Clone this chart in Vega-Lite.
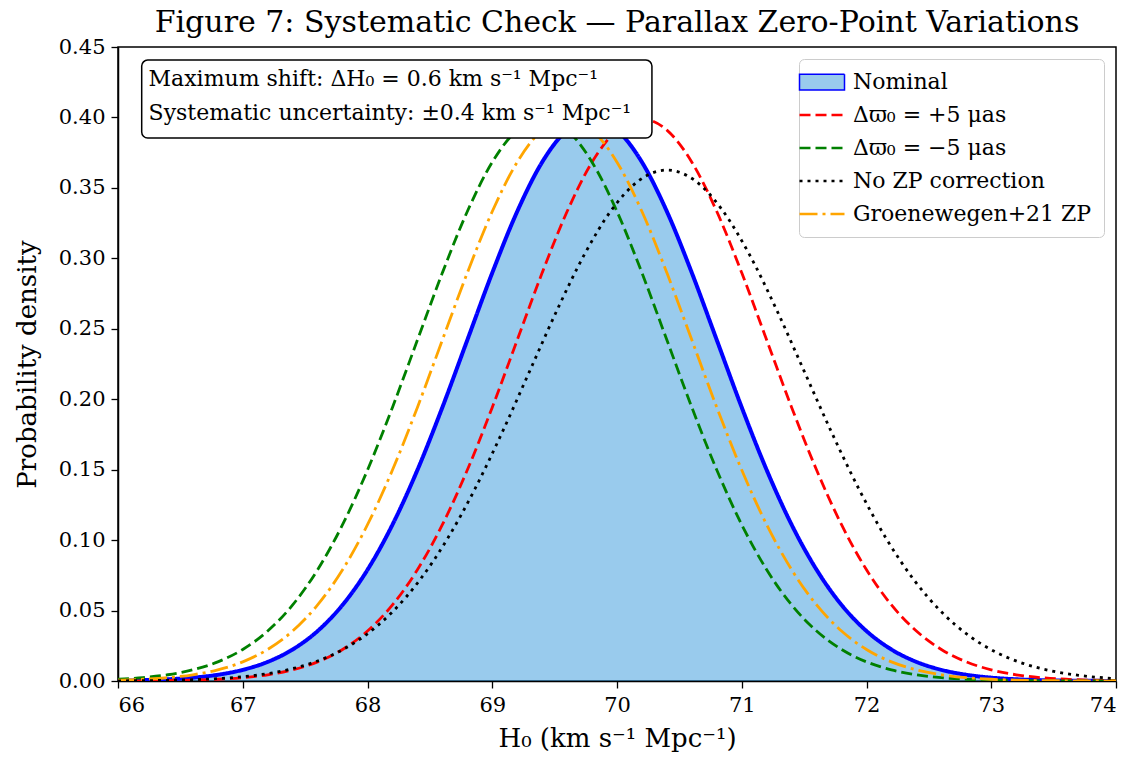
{
  "$schema": "https://vega.github.io/schema/vega-lite/v6.json",
  "width": 998,
  "height": 634,
  "autosize": {"type": "none"},
  "padding": {"left": 118, "top": 47, "right": 15, "bottom": 81},
  "background": "white",
  "title": {
    "text": "Figure 7: Systematic Check — Parallax Zero-Point Variations",
    "fontSize": 30,
    "fontWeight": "normal",
    "font": "DejaVu Serif",
    "color": "black",
    "anchor": "middle",
    "offset": -2
  },
  "config": {
    "font": "DejaVu Serif",
    "view": {"stroke": "black", "strokeWidth": 1.5},
    "axis": {
      "grid": false,
      "domainColor": "black",
      "domainWidth": 1.5,
      "tickColor": "black",
      "tickWidth": 1.3,
      "tickSize": 7,
      "labelColor": "black",
      "labelFontSize": 21,
      "labelFont": "DejaVu Serif",
      "titleColor": "black",
      "titleFontSize": 26,
      "titleFont": "DejaVu Serif",
      "titleFontWeight": "normal"
    }
  },
  "datasets": {
    "wide": [
      {"x": 66.0, "nom": 0.00029, "plus": 0.00006, "minus": 0.00123, "gr": 0.00061},
      {"x": 66.2, "nom": 0.00061, "plus": 0.00013, "minus": 0.00238, "gr": 0.00123},
      {"x": 66.4, "nom": 0.00123, "plus": 0.00029, "minus": 0.00443, "gr": 0.00238},
      {"x": 66.6, "nom": 0.00238, "plus": 0.00061, "minus": 0.00792, "gr": 0.00443},
      {"x": 66.8, "nom": 0.00443, "plus": 0.00123, "minus": 0.01358, "gr": 0.00792},
      {"x": 67.0, "nom": 0.00792, "plus": 0.00238, "minus": 0.02239, "gr": 0.01358},
      {"x": 67.2, "nom": 0.01358, "plus": 0.00443, "minus": 0.03547, "gr": 0.02239},
      {"x": 67.4, "nom": 0.02239, "plus": 0.00792, "minus": 0.05399, "gr": 0.03547},
      {"x": 67.6, "nom": 0.03547, "plus": 0.01358, "minus": 0.07895, "gr": 0.05399},
      {"x": 67.8, "nom": 0.05399, "plus": 0.02239, "minus": 0.11092, "gr": 0.07895},
      {"x": 68.0, "nom": 0.07895, "plus": 0.03547, "minus": 0.14973, "gr": 0.11092},
      {"x": 68.2, "nom": 0.11092, "plus": 0.05399, "minus": 0.19419, "gr": 0.14973},
      {"x": 68.4, "nom": 0.14973, "plus": 0.07895, "minus": 0.24197, "gr": 0.19419},
      {"x": 68.6, "nom": 0.19419, "plus": 0.11092, "minus": 0.28969, "gr": 0.24197},
      {"x": 68.8, "nom": 0.24197, "plus": 0.14973, "minus": 0.33322, "gr": 0.28969},
      {"x": 69.0, "nom": 0.28969, "plus": 0.19419, "minus": 0.36827, "gr": 0.33322},
      {"x": 69.2, "nom": 0.33322, "plus": 0.24197, "minus": 0.39104, "gr": 0.36827},
      {"x": 69.4, "nom": 0.36827, "plus": 0.28969, "minus": 0.39894, "gr": 0.39104},
      {"x": 69.6, "nom": 0.39104, "plus": 0.33322, "minus": 0.39104, "gr": 0.39894},
      {"x": 69.8, "nom": 0.39894, "plus": 0.36827, "minus": 0.36827, "gr": 0.39104},
      {"x": 70.0, "nom": 0.39104, "plus": 0.39104, "minus": 0.33322, "gr": 0.36827},
      {"x": 70.2, "nom": 0.36827, "plus": 0.39894, "minus": 0.28969, "gr": 0.33322},
      {"x": 70.4, "nom": 0.33322, "plus": 0.39104, "minus": 0.24197, "gr": 0.28969},
      {"x": 70.6, "nom": 0.28969, "plus": 0.36827, "minus": 0.19419, "gr": 0.24197},
      {"x": 70.8, "nom": 0.24197, "plus": 0.33322, "minus": 0.14973, "gr": 0.19419},
      {"x": 71.0, "nom": 0.19419, "plus": 0.28969, "minus": 0.11092, "gr": 0.14973},
      {"x": 71.2, "nom": 0.14973, "plus": 0.24197, "minus": 0.07895, "gr": 0.11092},
      {"x": 71.4, "nom": 0.11092, "plus": 0.19419, "minus": 0.05399, "gr": 0.07895},
      {"x": 71.6, "nom": 0.07895, "plus": 0.14973, "minus": 0.03547, "gr": 0.05399},
      {"x": 71.8, "nom": 0.05399, "plus": 0.11092, "minus": 0.02239, "gr": 0.03547},
      {"x": 72.0, "nom": 0.03547, "plus": 0.07895, "minus": 0.01358, "gr": 0.02239},
      {"x": 72.2, "nom": 0.02239, "plus": 0.05399, "minus": 0.00792, "gr": 0.01358},
      {"x": 72.4, "nom": 0.01358, "plus": 0.03547, "minus": 0.00443, "gr": 0.00792},
      {"x": 72.6, "nom": 0.00792, "plus": 0.02239, "minus": 0.00238, "gr": 0.00443},
      {"x": 72.8, "nom": 0.00443, "plus": 0.01358, "minus": 0.00123, "gr": 0.00238},
      {"x": 73.0, "nom": 0.00238, "plus": 0.00792, "minus": 0.00061, "gr": 0.00123},
      {"x": 73.2, "nom": 0.00123, "plus": 0.00443, "minus": 0.00029, "gr": 0.00061},
      {"x": 73.4, "nom": 0.00061, "plus": 0.00238, "minus": 0.00013, "gr": 0.00029},
      {"x": 73.6, "nom": 0.00029, "plus": 0.00123, "minus": 0.00006, "gr": 0.00013},
      {"x": 73.8, "nom": 0.00013, "plus": 0.00061, "minus": 0.00002, "gr": 0.00006},
      {"x": 74.0, "nom": 0.00006, "plus": 0.00029, "minus": 0.00001, "gr": 0.00002}
    ],
    "nozp": [
      {"x": 66.00, "nozp": 0.000122},
      {"x": 66.22, "nozp": 0.000265},
      {"x": 66.44, "nozp": 0.000556},
      {"x": 66.66, "nozp": 0.001120},
      {"x": 66.88, "nozp": 0.002167},
      {"x": 67.10, "nozp": 0.004029},
      {"x": 67.32, "nozp": 0.007195},
      {"x": 67.54, "nozp": 0.012348},
      {"x": 67.76, "nozp": 0.020359},
      {"x": 67.98, "nozp": 0.032250},
      {"x": 68.20, "nozp": 0.049083},
      {"x": 68.42, "nozp": 0.071773},
      {"x": 68.64, "nozp": 0.100837},
      {"x": 68.86, "nozp": 0.136115},
      {"x": 69.08, "nozp": 0.176533},
      {"x": 69.30, "nozp": 0.219974},
      {"x": 69.52, "nozp": 0.263356},
      {"x": 69.74, "nozp": 0.302932},
      {"x": 69.96, "nozp": 0.334791},
      {"x": 70.18, "nozp": 0.355494},
      {"x": 70.40, "nozp": 0.362675},
      {"x": 70.62, "nozp": 0.355494},
      {"x": 70.84, "nozp": 0.334791},
      {"x": 71.06, "nozp": 0.302932},
      {"x": 71.28, "nozp": 0.263356},
      {"x": 71.50, "nozp": 0.219974},
      {"x": 71.72, "nozp": 0.176533},
      {"x": 71.94, "nozp": 0.136115},
      {"x": 72.16, "nozp": 0.100837},
      {"x": 72.38, "nozp": 0.071773},
      {"x": 72.60, "nozp": 0.049083},
      {"x": 72.82, "nozp": 0.032250},
      {"x": 73.04, "nozp": 0.020359},
      {"x": 73.26, "nozp": 0.012348},
      {"x": 73.48, "nozp": 0.007195},
      {"x": 73.70, "nozp": 0.004029},
      {"x": 73.92, "nozp": 0.002167},
      {"x": 74.14, "nozp": 0.001120}
    ],
    "one": [{}]
  },
  "layer": [
    {
      "data": {"name": "wide"},
      "mark": {"type": "area", "fill": "#3498db", "fillOpacity": 0.5, "interpolate": "monotone", "clip": true},
      "encoding": {
        "x": {"field": "x", "type": "quantitative", "scale": {"domain": [66, 74], "nice": false, "zero": false},
              "axis": {"values": [66, 67, 68, 69, 70, 71, 72, 73, 74], "format": "d", "title": "H₀ (km s⁻¹ Mpc⁻¹)", "titlePadding": 10, "labelPadding": 6}},
        "y": {"field": "nom", "type": "quantitative", "scale": {"domain": [0, 0.45], "nice": false},
              "axis": {"values": [0, 0.05, 0.1, 0.15, 0.2, 0.25, 0.3, 0.35, 0.4, 0.45], "format": ".2f", "title": "Probability density", "titlePadding": 18, "labelPadding": 6}}
      }
    },
    {
      "data": {"name": "wide"},
      "transform": [{"fold": ["nom", "plus", "minus", "gr"], "as": ["series", "y"]}],
      "mark": {"type": "line", "interpolate": "monotone", "clip": true},
      "encoding": {
        "x": {"field": "x", "type": "quantitative"},
        "y": {"field": "y", "type": "quantitative"},
        "color": {
          "field": "series", "type": "nominal",
          "scale": {"domain": ["nom", "plus", "minus", "nozp", "gr"], "range": ["#0000ff", "#ff0000", "#008000", "#000000", "#ffa500"]},
          "legend": {
            "title": null,
            "orient": "top-right",
            "offset": 12,
            "fillColor": "white",
            "strokeColor": "#cccccc",
            "cornerRadius": 5,
            "padding": 12,
            "labelFontSize": 22,
            "labelFont": "DejaVu Serif",
            "labelColor": "black",
            "labelLimit": 500,
            "labelOffset": 20,
            "symbolType": "stroke",
            "symbolSize": 2025,
            "symbolStrokeWidth": 2.6,
            "rowPadding": 11,
            "labelExpr": "{'nom':'Nominal','plus':'Δϖ₀ = +5 μas','minus':'Δϖ₀ = −5 μas','nozp':'No ZP correction','gr':'Groenewegen+21 ZP'}[datum.value]",
            "encode": {
              "symbols": {
                "update": {
                  "shape": {"signal": "datum.value === 'nom' ? 'M-1,-0.35H1V0.35H-1Z' : 'stroke'"},
                  "fill": {"signal": "datum.value === 'nom' ? '#99cbed' : 'transparent'"},
                  "stroke": [{"test": "datum.value === 'nom'", "value": "#7cbde8"}, {"scale": "color", "field": "value"}],
                  "strokeWidth": {"signal": "datum.value === 'nom' ? 1.5 : 2.6"}
                }
              }
            }
          }
        },
        "strokeDash": {
          "field": "series", "type": "nominal",
          "scale": {"domain": ["nom", "plus", "minus", "nozp", "gr"], "range": [[1, 0], [11, 5], [11, 5], [3, 5], [18, 5, 3, 5]]},
          "legend": {"title": null}
        },
        "strokeWidth": {"condition": {"test": "datum.series === 'nom'", "value": 4}, "value": 2.8}
      }
    },
    {
      "data": {"name": "nozp"},
      "transform": [{"fold": ["nozp"], "as": ["series", "y"]}],
      "mark": {"type": "line", "interpolate": "monotone", "clip": true, "strokeWidth": 2.8},
      "encoding": {
        "x": {"field": "x", "type": "quantitative"},
        "y": {"field": "y", "type": "quantitative"},
        "color": {"field": "series", "type": "nominal"},
        "strokeDash": {"field": "series", "type": "nominal"}
      }
    },
    {
      "data": {"name": "one"},
      "mark": {"type": "rect", "fill": "white", "stroke": "black", "strokeWidth": 1.5, "cornerRadius": 6},
      "encoding": {
        "x": {"datum": 66.19, "type": "quantitative"},
        "x2": {"datum": 70.28},
        "y": {"datum": 0.3854, "type": "quantitative"},
        "y2": {"datum": 0.4407}
      }
    },
    {
      "data": {"name": "one"},
      "mark": {"type": "text", "align": "left", "baseline": "middle", "fontSize": 22, "font": "DejaVu Serif", "color": "black", "lineHeight": 34,
               "text": ["Maximum shift: ΔH₀ = 0.6 km s⁻¹ Mpc⁻¹", "Systematic uncertainty: ±0.4 km s⁻¹ Mpc⁻¹"]},
      "encoding": {
        "x": {"datum": 66.245, "type": "quantitative"},
        "y": {"datum": 0.4275, "type": "quantitative"}
      }
    }
  ]
}
